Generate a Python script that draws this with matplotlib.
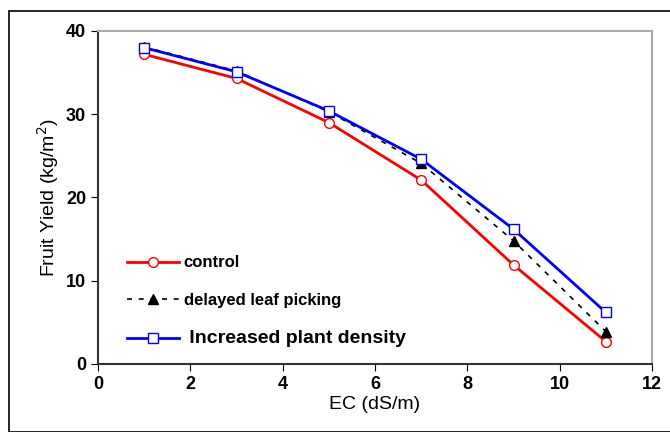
import matplotlib
matplotlib.use("Agg")
import matplotlib.pyplot as plt
from matplotlib.patches import Rectangle

plt.rcParams["font.family"] = ["Liberation Sans", "DejaVu Sans"]

ec = [1, 3, 5, 7, 9, 11]
control = [37.2, 34.3, 29.0, 22.1, 11.9, 2.7]
delayed = [38.1, 35.2, 30.3, 24.1, 14.8, 3.9]
density = [38.0, 35.1, 30.4, 24.6, 16.2, 6.2]

fig = plt.figure(figsize=(6.7, 4.32), dpi=100)
fig.patches.append(Rectangle((9 / 670, 0), 1, 1 - 11 / 432, transform=fig.transFigure,
                             fill=False, edgecolor="black", linewidth=1.2))
ax = fig.add_axes([98 / 670, 68 / 432, 554 / 670, 333 / 432])

ax.plot(ec, control, color="red", linewidth=2, marker="o", markersize=7,
        markerfacecolor="white", markeredgecolor="red", label="control")
ax.plot(ec, delayed, color="black", linewidth=1.2, linestyle=(0, (3, 4)), marker="^",
        markersize=7, markerfacecolor="black", label="delayed leaf picking")
ax.plot(ec, density, color="blue", linewidth=2, marker="s", markersize=7,
        markerfacecolor="white", markeredgecolor="blue", label=" Increased plant density")

ax.set_xlim(0, 12)
ax.set_ylim(0, 40)
ax.set_xticks(range(0, 13, 2))
ax.set_yticks(range(0, 41, 10))
ax.tick_params(direction="out", length=5, labelsize=13)
for lbl in ax.get_xticklabels() + ax.get_yticklabels():
    lbl.set_fontweight("bold")
ax.set_xlabel("EC (dS/m)", fontsize=14, labelpad=2)
ax.set_ylabel("Fruit Yield (kg/m$^2$)", fontsize=14)

for side in ("top", "right"):
    ax.spines[side].set_color("#aaaaaa")
    ax.spines[side].set_linewidth(1.5)
for side in ("left", "bottom"):
    ax.spines[side].set_color("#333333")
    ax.spines[side].set_linewidth(1.5)

leg = ax.legend(loc="lower left", bbox_to_anchor=(0.025, 0.005), frameon=False,
                handlelength=3.1, handletextpad=0.3, labelspacing=1.35,
                prop={"weight": "bold", "size": 12})
leg.get_texts()[2].set_fontsize(14)

fig.savefig("out.png", dpi=100)
